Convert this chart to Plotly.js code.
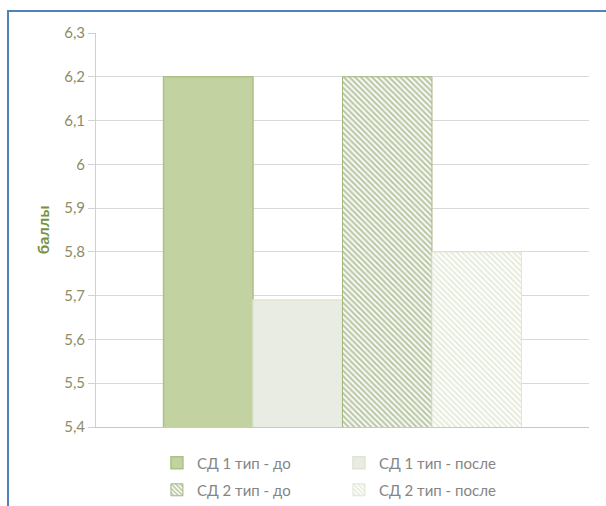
<!DOCTYPE html>
<html>
<head>
<meta charset="utf-8">
<script src="https://cdn.plot.ly/plotly-3.0.1.min.js"></script>
<style>
  html, body { margin: 0; padding: 0; background: #fff; }
  #wrap { position: relative; width: 606px; height: 506px; overflow: hidden; }
  #chart { position: absolute; left: 0; top: 0; width: 606px; height: 506px; }
  #frame {
    position: absolute; left: 7px; top: 10px; right: -4px; bottom: -4px;
    border-top: 2px solid #4f81bd; border-left: 2px solid #4f81bd;
    pointer-events: none;
  }
</style>
</head>
<body>
<div id="wrap">
  <div id="chart"></div>
  <div id="frame"></div>
</div>
<script>
// One group of bars: diabetes type 1 / type 2, before and after
const category = ['оценка'];
const seriesNames = ['СД 1 тип - до', 'СД 1 тип - после', 'СД 2 тип - до', 'СД 2 тип - после'];
const t1Before = [6.2];
const t1After = [5.69];
const t2Before = [6.2];
const t2After = [5.8];
const yTickVals = [5.4, 5.5, 5.6, 5.7, 5.8, 5.9, 6.0, 6.1, 6.2, 6.3];
const yTickText = ['5,4', '5,5', '5,6', '5,7', '5,8', '5,9', '6', '6,1', '6,2', '6,3'];

const FONT = 'Lato, "Open Sans", sans-serif';

const traces = [
  {
    type: 'bar', name: seriesNames[0], x: category, y: t1Before, legend: 'legend',
    marker: { color: '#c3d2a1', line: { color: '#adc186', width: 1.5 } }
  },
  {
    type: 'bar', name: seriesNames[1], x: category, y: t1After, legend: 'legend',
    marker: { color: '#e9ece2', line: { color: '#dfe5d2', width: 1.5 } }
  },
  {
    type: 'bar', name: seriesNames[2], x: category, y: t2Before, legend: 'legend2',
    marker: {
      color: '#ffffff',
      line: { color: '#a3b77f', width: 1 },
      pattern: { shape: '\\', fgcolor: '#7a9250', bgcolor: '#ffffff', size: 4, solidity: 0.55, fillmode: 'overlay' }
    }
  },
  {
    type: 'bar', name: seriesNames[3], x: category, y: t2After, legend: 'legend2',
    marker: {
      color: '#ffffff',
      line: { color: '#e0e6d3', width: 1 },
      pattern: { shape: '\\', fgcolor: '#cdd7b6', bgcolor: '#ffffff', size: 4, solidity: 0.5, fillmode: 'overlay' }
    }
  }
];

const legendBase = {
  orientation: 'h',
  x: 0.1236, xanchor: 'left',
  yanchor: 'middle',
  entrywidth: 137, entrywidthmode: 'pixels',
  itemwidth: 30,
  traceorder: 'normal',
  font: { family: FONT, size: 15, color: '#858585' },
  bgcolor: 'rgba(0,0,0,0)'
};

const layout = {
  width: 606, height: 506,
  margin: { l: 96, r: 17, t: 33, b: 79, autoexpand: false },
  paper_bgcolor: '#ffffff',
  plot_bgcolor: '#ffffff',
  barmode: 'group',
  bargap: 0.274,
  bargroupgap: 0,
  font: { family: FONT, size: 15, color: '#8a8a6a' },
  xaxis: {
    showticklabels: false,
    showgrid: false,
    showline: true, linecolor: '#c8c8c8', linewidth: 1,
    ticks: '', fixedrange: true
  },
  yaxis: {
    range: [5.4, 6.3],
    tickvals: yTickVals,
    ticktext: yTickText,
    showgrid: true, gridcolor: '#d9d9d9', gridwidth: 1,
    showline: true, linecolor: '#d0d0d0', linewidth: 1,
    ticks: 'outside', ticklen: 7, tickcolor: '#d0d0d0',
    tickfont: { family: FONT, size: 15, color: '#8c8c66' },
    title: { text: '<b>баллы</b>', standoff: 10, font: { family: FONT, size: 16, color: '#76923c' } },
    zeroline: false, fixedrange: true
  },
  showlegend: true,
  legend: Object.assign({}, legendBase, { y: -0.0914 }),
  legend2: Object.assign({}, legendBase, { y: -0.160 })
};

Plotly.newPlot('chart', traces, layout, { staticPlot: true, displayModeBar: false });
</script>
</body>
</html>
